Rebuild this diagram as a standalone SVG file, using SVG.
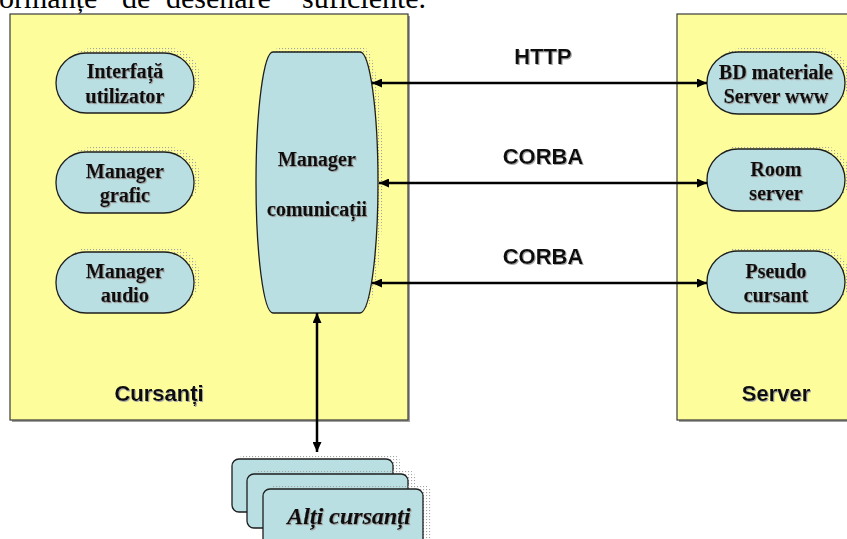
<svg xmlns="http://www.w3.org/2000/svg" width="847" height="539" viewBox="0 0 847 539">
  <style>
    .panel { fill: #FDFD9B; stroke: #3a3a3a; stroke-width: 1.2; }
    .panel-shadow { fill: #a0a0a0; }
    .node { fill: #B9DFE2; stroke: #1e1e1e; stroke-width: 1.3; }
    .stipple { fill: url(#dots); }
    .lbl { font-family: "Liberation Serif", "Times New Roman", serif; font-weight: bold; font-size: 20px; fill: #0a0a0a; stroke: #0a0a0a; stroke-width: 0.25; text-anchor: middle; }
    .proto { font-family: "Liberation Sans", Arial, sans-serif; font-weight: bold; font-size: 22px; fill: #0a0a0a; text-anchor: middle; }
    .wire { stroke: #000; stroke-width: 2.5; fill: none; marker-start: url(#head); marker-end: url(#head); }
    .heading { font-family: "Liberation Serif", "Times New Roman", serif; font-size: 30px; fill: #000; }
  </style>
  <defs>
    <pattern id="dots" width="3" height="3" patternUnits="userSpaceOnUse">
      <rect x="0" y="0" width="1.1" height="1.1" fill="#a4a4a4"/>
    </pattern>
    <marker id="head" viewBox="0 0 10 9" refX="10" refY="4.5" markerWidth="10" markerHeight="9" markerUnits="userSpaceOnUse" orient="auto-start-reverse">
      <path d="M0,0 L10,4.5 L0,9 Z" fill="#000"/>
    </marker>
    <filter id="ts" x="-10%" y="-20%" width="125%" height="150%">
      <feOffset in="SourceAlpha" dx="1.2" dy="1.2" result="o"/>
      <feFlood flood-color="#a8a8a8"/>
      <feComposite in2="o" operator="in" result="s"/>
      <feMerge><feMergeNode in="s"/><feMergeNode in="SourceGraphic"/></feMerge>
    </filter>
  </defs>

  <!-- trailing line of the paragraph above the figure -->
  <g id="caption">
    <text class="heading" x="-1" y="7.5">ormanțe</text>
    <text class="heading" x="122" y="7.5">de</text>
    <text class="heading" x="166" y="7.5">desenare</text>
    <text class="heading" x="302" y="7.5">suficiente.</text>
  </g>

  <!-- client side panel -->
  <g id="cursanti">
    <rect class="panel-shadow" x="12" y="16" width="398" height="406"/>
    <rect class="panel" x="10" y="14" width="398" height="406"/>
    <text class="proto" x="159" y="401" filter="url(#ts)">Cursanți</text>
  </g>

  <!-- server side panel -->
  <g id="server">
    <rect class="panel-shadow" x="679" y="16" width="200" height="406"/>
    <rect class="panel" x="677" y="14" width="200" height="406"/>
    <text class="proto" x="776" y="401" filter="url(#ts)">Server</text>
  </g>

  <g id="interfata-utilizator">
    <rect class="stipple" x="62" y="48" width="138" height="60" rx="30"/>
    <rect class="node" x="56" y="53" width="138" height="60" rx="30"/>
    <text class="lbl" x="125" y="77.5" filter="url(#ts)">Interfață</text>
    <text class="lbl" x="125" y="102.5" filter="url(#ts)">utilizator</text>
  </g>

  <g id="manager-grafic">
    <rect class="stipple" x="62" y="147" width="138" height="61" rx="30"/>
    <rect class="node" x="56" y="152" width="138" height="61" rx="30"/>
    <text class="lbl" x="125" y="177.5" filter="url(#ts)">Manager</text>
    <text class="lbl" x="125" y="202" filter="url(#ts)">grafic</text>
  </g>

  <g id="manager-audio">
    <rect class="stipple" x="62" y="247" width="138" height="61" rx="30"/>
    <rect class="node" x="56" y="252" width="138" height="61" rx="30"/>
    <text class="lbl" x="125" y="277.5" filter="url(#ts)">Manager</text>
    <text class="lbl" x="125" y="301.5" filter="url(#ts)">audio</text>
  </g>

  <g id="manager-comunicatii">
    <path class="stipple" d="M278,48 H365 A18,130.5 0 0 1 365,309 H278 A17,130.5 0 0 1 278,48 Z"/>
    <path class="node" d="M273,52 H360 A18,130.5 0 0 1 360,313 H273 A17,130.5 0 0 1 273,52 Z"/>
    <text class="lbl" x="317" y="166" filter="url(#ts)">Manager</text>
    <text class="lbl" x="317" y="216" filter="url(#ts)">comunicații</text>
  </g>

  <g id="bd-materiale">
    <rect class="stipple" x="712" y="48" width="138" height="62" rx="31"/>
    <rect class="node" x="707" y="52" width="138" height="62" rx="31"/>
    <text class="lbl" x="776" y="78.5" filter="url(#ts)">BD materiale</text>
    <text class="lbl" x="776" y="102.5" filter="url(#ts)">Server www</text>
  </g>

  <g id="room-server">
    <rect class="stipple" x="712" y="145" width="138" height="62" rx="31"/>
    <rect class="node" x="707" y="149" width="138" height="62" rx="31"/>
    <text class="lbl" x="776" y="175.5" filter="url(#ts)">Room</text>
    <text class="lbl" x="776" y="200" filter="url(#ts)">server</text>
  </g>

  <g id="pseudo-cursant">
    <rect class="stipple" x="712" y="247" width="138" height="62" rx="31"/>
    <rect class="node" x="707" y="251" width="138" height="62" rx="31"/>
    <text class="lbl" x="776" y="277.5" filter="url(#ts)">Pseudo</text>
    <text class="lbl" x="776" y="302" filter="url(#ts)">cursant</text>
  </g>

  <!-- stack of remote learners -->
  <g id="alti-cursanti">
    <rect class="stipple" x="238" y="455" width="162" height="54" rx="7"/>
    <rect class="node" x="232" y="459" width="161" height="53" rx="7"/>
    <rect class="stipple" x="253" y="470" width="162" height="54" rx="7"/>
    <rect class="node" x="247" y="474" width="161" height="54" rx="7"/>
    <rect class="stipple" x="269" y="485" width="162" height="60" rx="7"/>
    <rect class="node" x="263" y="489" width="160" height="60" rx="7"/>
    <text x="349" y="524" font-family="Liberation Serif, Times New Roman, serif" font-weight="bold" font-style="italic" font-size="24" fill="#0a0a0a" stroke="#0a0a0a" stroke-width="0.25" text-anchor="middle" filter="url(#ts)">Alți cursanți</text>
  </g>

  <g id="connectors">
    <line class="wire" x1="372" y1="83" x2="707" y2="83"/>
    <line class="wire" x1="379" y1="183" x2="707" y2="183"/>
    <line class="wire" x1="372" y1="283" x2="707" y2="283"/>
    <line class="wire" x1="317" y1="313" x2="317" y2="452"/>
    <text class="proto" x="543" y="64" filter="url(#ts)">HTTP</text>
    <text class="proto" x="543" y="164" filter="url(#ts)">CORBA</text>
    <text class="proto" x="543" y="263.5" filter="url(#ts)">CORBA</text>
  </g>
</svg>
